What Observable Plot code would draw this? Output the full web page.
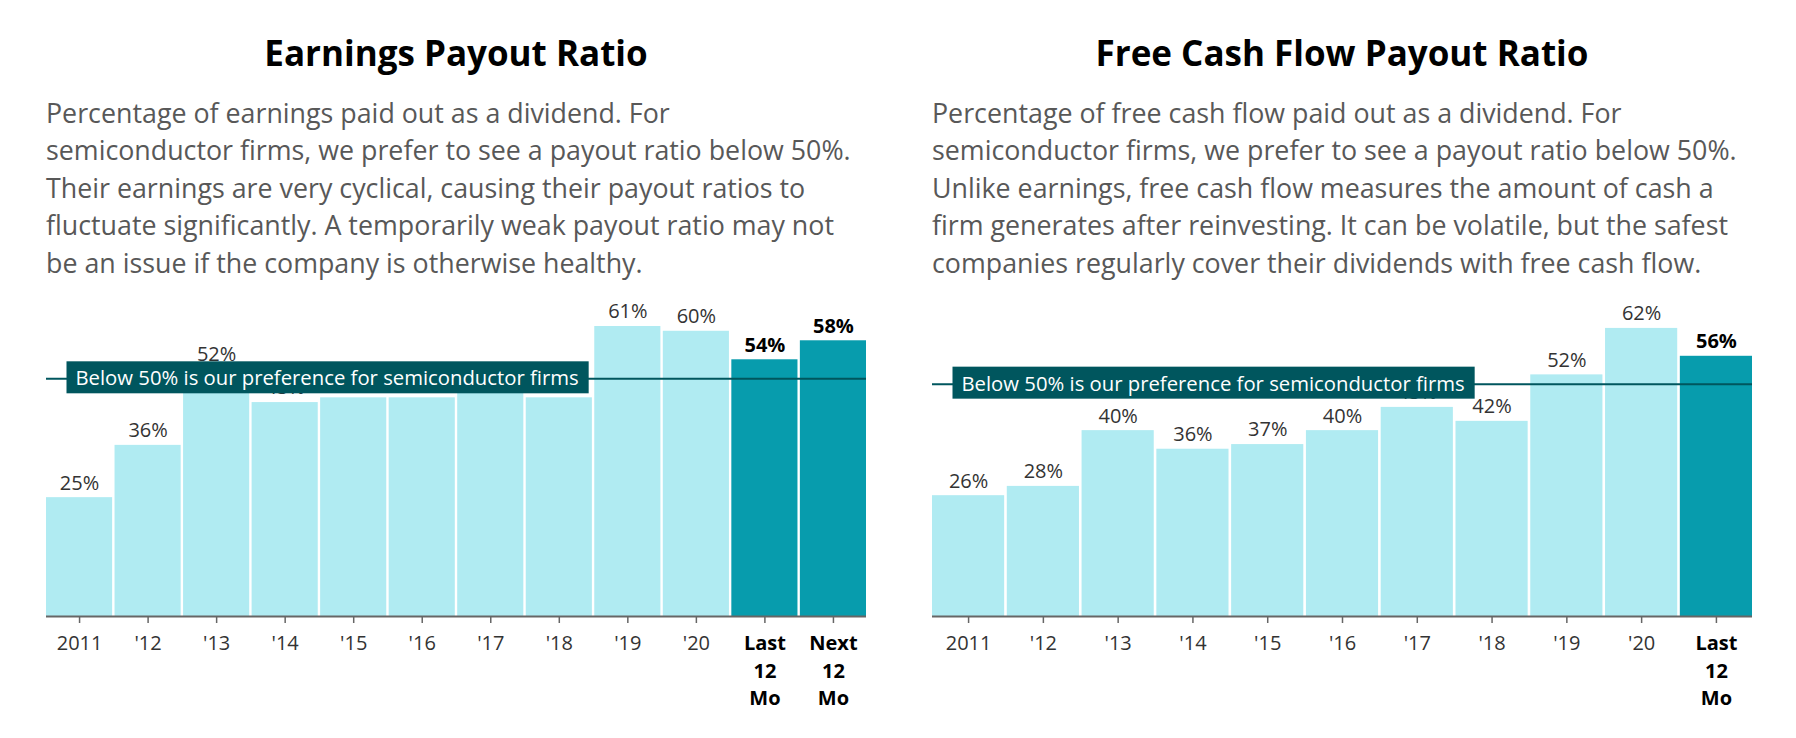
<!DOCTYPE html>
<html>
<head>
<meta charset="utf-8">
<script src="https://cdn.jsdelivr.net/npm/d3@7"></script>
<script src="https://cdn.jsdelivr.net/npm/@observablehq/plot@0.6"></script>
<style>
  html, body { margin: 0; padding: 0; background: #fff; }
  body { width: 1796px; height: 738px; position: relative; overflow: hidden; font-family: "Open Sans", sans-serif; }
  .panel { position: absolute; top: 0; width: 898px; height: 738px; }
  .title { position: absolute; top: 29px; width: 820px; text-align: center; font-size: 35px; line-height: 48px; font-weight: 700; color: #000; white-space: nowrap; }
  .desc { position: absolute; top: 93.5px; font-size: 26.8px; line-height: 37.5px; color: #585858; white-space: nowrap; }
  .chart { position: absolute; top: 280px; left: 0; }
</style>
</head>
<body>
<div class="panel" id="p1" style="left:0"></div>
<div class="panel" id="p2" style="left:898px"></div>
<script>
// ---------- data ----------
const earningsTitle = "Earnings Payout Ratio";
const earningsDesc = [
  "Percentage of earnings paid out as a dividend. For",
  "semiconductor firms, we prefer to see a payout ratio below 50%.",
  "Their earnings are very cyclical, causing their payout ratios to",
  "fluctuate significantly. A temporarily weak payout ratio may not",
  "be an issue if the company is otherwise healthy."
];
const earningsCategories = ["2011", "'12", "'13", "'14", "'15", "'16", "'17", "'18", "'19", "'20", "Last 12 Mo", "Next 12 Mo"];
const earningsValues = [25, 36, 52, 45, 46, 46, 48, 46, 61, 60, 54, 58];

const fcfTitle = "Free Cash Flow Payout Ratio";
const fcfDesc = [
  "Percentage of free cash flow paid out as a dividend. For",
  "semiconductor firms, we prefer to see a payout ratio below 50%.",
  "Unlike earnings, free cash flow measures the amount of cash a",
  "firm generates after reinvesting. It can be volatile, but the safest",
  "companies regularly cover their dividends with free cash flow."
];
const fcfCategories = ["2011", "'12", "'13", "'14", "'15", "'16", "'17", "'18", "'19", "'20", "Last 12 Mo"];
const fcfValues = [26, 28, 40, 36, 37, 40, 45, 42, 52, 62, 56];

const highlightCategories = ["Last 12 Mo", "Next 12 Mo"];
const threshold = 50;
const thresholdLabel = "Below 50% is our preference for semiconductor firms";

// ---------- styles ----------
const lightFill = "#b0ebf2";
const darkFill = "#079cad";
const noteColor = "#00565e";
const fs = 20;

function panel(container, title, desc, cats, vals, opts) {
  const t = document.createElement("div");
  t.className = "title";
  t.style.left = opts.marginLeft + "px";
  t.textContent = title;
  container.appendChild(t);

  const d = document.createElement("div");
  d.className = "desc";
  d.style.left = opts.marginLeft + "px";
  desc.forEach(line => {
    const l = document.createElement("div");
    l.textContent = line;
    d.appendChild(l);
  });
  container.appendChild(d);

  const data = cats.map((c, i) => ({cat: c, value: vals[i], hi: highlightCategories.includes(c)}));
  const regular = cats.filter(c => !highlightCategories.includes(c));
  const bold = cats.filter(c => highlightCategories.includes(c));
  const fmt = c => c.replace(/ /g, "\n");

  const chart = Plot.plot({
    width: 898,
    height: 458,
    marginLeft: opts.marginLeft,
    marginRight: opts.marginRight,
    marginTop: 27,
    marginBottom: 122,
    style: {fontFamily: "Open Sans", background: "transparent", overflow: "visible"},
    x: {domain: cats, axis: null, paddingInner: 0.035, paddingOuter: 0, round: false},
    y: {domain: [0, opts.yMax], axis: null},
    marks: [
      Plot.barY(data, {x: "cat", y: "value", fill: d => d.hi ? darkFill : lightFill}),
      Plot.text(data.filter(d => !d.hi), {x: "cat", y: "value", text: d => d.value + "%", dy: -14.5, fontSize: fs, fill: "#333"}),
      Plot.text(data.filter(d => d.hi), {x: "cat", y: "value", text: d => d.value + "%", dy: -14.5, fontSize: fs, fontWeight: "bold", fill: "#000"}),
      Plot.ruleY([0], {stroke: "#666", strokeWidth: 2}),
      Plot.axisX({ticks: regular, tickFormat: fmt, tickSize: 7, tickPadding: 7, stroke: "#666", strokeWidth: 1.5, fill: "#333", fontSize: fs, lineHeight: 1.38, label: null}),
      Plot.axisX({ticks: bold, tickFormat: fmt, tickSize: 7, tickPadding: 7, stroke: "#666", strokeWidth: 1.5, fill: "#000", fontSize: fs, fontWeight: "bold", lineHeight: 1.38, label: null}),
      Plot.ruleY([threshold], {stroke: noteColor, strokeWidth: 2}),
      Plot.text([{label: thresholdLabel, value: threshold}], {y: "value", text: "label", frameAnchor: "left", textAnchor: "start", dx: 29, fontSize: 20.3, fill: "#fff"})
    ]
  });
  chart.classList.add("chart");
  container.appendChild(chart);

  // background box behind the annotation text (same local coordinates as the text)
  d3.select(chart).selectAll("text").filter(function() { return this.textContent === thresholdLabel; }).each(function() {
    const b = this.getBBox();
    const cy = b.y + b.height / 2;
    const r = document.createElementNS("http://www.w3.org/2000/svg", "rect");
    r.setAttribute("x", b.x - 9);
    r.setAttribute("y", cy - 16);
    r.setAttribute("width", b.width + 19);
    r.setAttribute("height", 32);
    r.setAttribute("fill", noteColor);
    const tr = this.getAttribute("transform");
    if (tr) r.setAttribute("transform", tr);
    this.parentNode.insertBefore(r, this);
  });
}

panel(document.getElementById("p1"), earningsTitle, earningsDesc, earningsCategories, earningsValues, {marginLeft: 46, marginRight: 32, yMax: 65});
panel(document.getElementById("p2"), fcfTitle, fcfDesc, fcfCategories, fcfValues, {marginLeft: 34, marginRight: 44, yMax: 66.5});
</script>
</body>
</html>
